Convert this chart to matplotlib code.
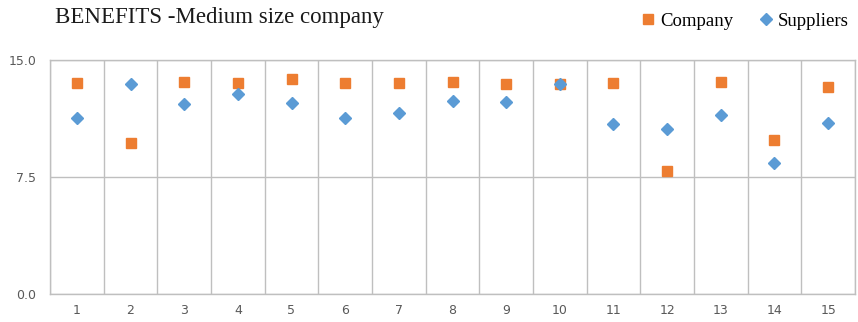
import matplotlib.pyplot as plt
import numpy as np

items = list(range(1, 16))
company = [13.5, 9.7, 13.6, 13.5, 13.8, 13.5, 13.5, 13.6, 13.45, 13.45, 13.5, 7.9, 13.6, 9.85, 13.25]
suppliers = [11.25, 13.45, 12.15, 12.85, 12.25, 11.3, 11.6, 12.35, 12.3, 13.45, 10.9, 10.6, 11.5, 8.4, 10.95]
y_ticks = [0.0, 7.5, 15.0]

ORANGE = "#ED7D31"
BLUE = "#5B9BD5"
GRID = "#BFBFBF"

fig = plt.figure(figsize=(8.58, 3.22), dpi=100)
ax = fig.add_axes([50 / 858, 1 - 294 / 322, 805 / 858, 234 / 322])

ax.plot(items, company, linestyle="none", marker="s", ms=7, color=ORANGE, label="Company", zorder=3)
ax.plot(items, suppliers, linestyle="none", marker="D", ms=6.5, color=BLUE, label="Suppliers", zorder=4)

ax.set_xlim(0.5, 15.5)
ax.set_ylim(0, 15)
ax.set_xticks(items)
ax.set_xticklabels([str(i) for i in items])
ax.set_xticks(np.arange(0.5, 16, 1), minor=True)
ax.set_yticks(y_ticks)
ax.set_yticklabels([f"{v:.1f}" for v in y_ticks])

ax.grid(which="minor", axis="x", color=GRID, linewidth=1)
ax.grid(which="major", axis="y", color=GRID, linewidth=1)
ax.grid(which="major", axis="x", visible=False)
for s in ax.spines.values():
    s.set_color(GRID)
    s.set_linewidth(1)

ax.tick_params(which="both", length=0)
ax.tick_params(axis="x", pad=7, labelsize=9, labelcolor="#595959")
ax.tick_params(axis="y", pad=10, labelsize=9, labelcolor="#595959")

fig.text(55 / 858, 1 - 18 / 322, "BENEFITS -Medium size company", family="Liberation Serif",
         fontsize=16.5, color="#1a1a1a", ha="left", va="center")

leg = fig.legend(loc="center right", bbox_to_anchor=(0.998, 1 - 21 / 322), ncol=2, frameon=False,
                 prop={"family": "Liberation Serif", "size": 13.5}, handlelength=0.7,
                 handletextpad=0.3, columnspacing=1.4, borderaxespad=0)

fig.savefig("out.png", dpi=100)
